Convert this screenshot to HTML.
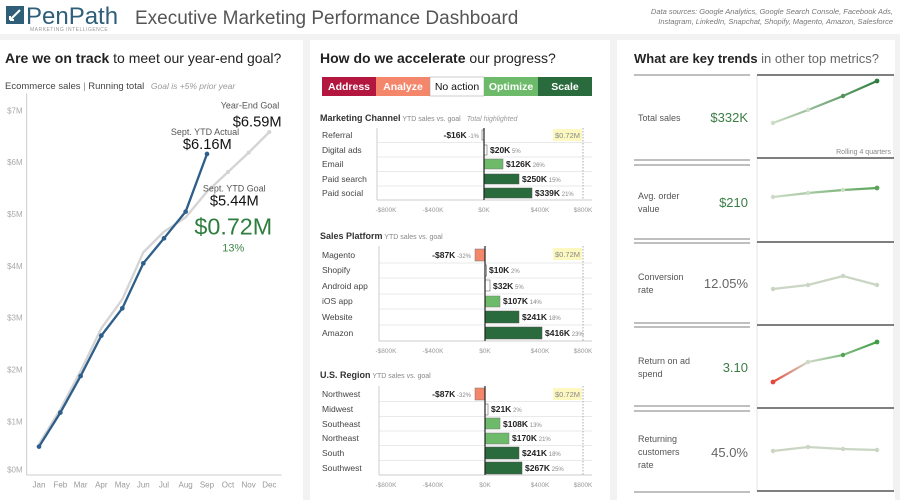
<!DOCTYPE html>
<html><head><meta charset="utf-8"><style>
html,body{margin:0;padding:0;width:900px;height:500px;overflow:hidden;background:#fff}
svg{display:block;font-family:"Liberation Sans",sans-serif}
</style></head><body>
<svg width="900" height="500" viewBox="0 0 900 500" xmlns="http://www.w3.org/2000/svg">
<defs>
<linearGradient id="g1" x1="0" x2="1"><stop offset="0" stop-color="#cddcc6"/><stop offset="1" stop-color="#2f7f3f"/></linearGradient>
<linearGradient id="g2" x1="0" x2="1"><stop offset="0" stop-color="#cddcc6"/><stop offset="1" stop-color="#5aa55a"/></linearGradient>
<linearGradient id="g4" x1="0" x2="1"><stop offset="0" stop-color="#e8453c"/><stop offset="0.33" stop-color="#cfd9c8"/><stop offset="1" stop-color="#3e9e45"/></linearGradient>
</defs>
<rect x="0" y="34" width="900" height="466" fill="#f2f2f2"/>
<rect x="0" y="40" width="303" height="460" fill="#fff"/>
<rect x="310" y="40" width="300" height="460" fill="#fff"/>
<rect x="617" y="40" width="278" height="460" fill="#fff"/>

<rect x="6" y="6" width="18" height="18" fill="#2f5f78"/>
<path d="M10 20 L20 10 M10 20 L14 20 M10 20 L10 16" stroke="#fff" stroke-width="2" fill="none"/>
<text x="26" y="24" font-size="24" fill="#2f5f78">PenPath</text>
<text x="30" y="31" font-size="5" fill="#999" letter-spacing="0.5">MARKETING INTELLIGENCE</text>
<text x="135" y="24" font-size="19" fill="#555">Executive Marketing Performance Dashboard</text>
<text x="893" y="14" font-size="7.5" fill="#777" font-style="italic" text-anchor="end">Data sources: Google Analytics, Google Search Console, Facebook Ads,</text>
<text x="893" y="24" font-size="7.5" fill="#777" font-style="italic" text-anchor="end">Instagram, LinkedIn, Snapchat, Shopify, Magento, Amazon, Salesforce</text>

<text x="5" y="63" font-size="14" fill="#222"><tspan font-weight="bold">Are we on track</tspan> to meet our year-end goal?</text>
<text x="5" y="89" font-size="9.5" fill="#444">Ecommerce sales <tspan fill="#888">|</tspan> Running total <tspan dx="4" fill="#999" font-style="italic" font-size="8.5">Goal is +5% prior year</tspan></text>
<g transform="translate(0,90) scale(0.3333)">
 <line x1="80" y1="10" x2="80" y2="1155" stroke="#ccc" stroke-width="3"/>
 <line x1="80" y1="1155" x2="845" y2="1155" stroke="#ccc" stroke-width="3"/>
 <g font-size="24" fill="#aaa" text-anchor="end">
  <text x="68" y="70">$7M</text><text x="68" y="225">$6M</text><text x="68" y="381">$5M</text><text x="68" y="537">$4M</text><text x="68" y="692">$3M</text><text x="68" y="848">$2M</text><text x="68" y="1003">$1M</text><text x="68" y="1148">$0M</text>
 </g>
 <g font-size="24" fill="#999" text-anchor="middle">
  <text x="117" y="1192">Jan</text><text x="181" y="1192">Feb</text><text x="242" y="1192">Mar</text><text x="304" y="1192">Apr</text><text x="367" y="1192">May</text><text x="430" y="1192">Jun</text><text x="492" y="1192">Jul</text><text x="557" y="1192">Aug</text><text x="621" y="1192">Sep</text><text x="684" y="1192">Oct</text><text x="746" y="1192">Nov</text><text x="808" y="1192">Dec</text>
 </g>
 <polyline fill="none" stroke="#d4d4d4" stroke-width="7" points="117,1062 181,958 242,843 304,715 367,628 430,487 492,425 557,382 621,305 684,246 746,188 808,126"/>
 <g fill="#d4d4d4"><circle cx="684" cy="246" r="6"/><circle cx="746" cy="188" r="6"/><circle cx="808" cy="126" r="6"/></g>
 <polyline fill="none" stroke="#2e5f8a" stroke-width="7" points="117,1070 181,968 242,858 304,737 367,655 430,520 492,445 557,365 621,192"/>
 <g fill="#2e5f8a"><circle cx="117" cy="1070" r="7"/><circle cx="181" cy="968" r="7"/><circle cx="242" cy="858" r="7"/><circle cx="304" cy="737" r="7"/><circle cx="367" cy="655" r="7"/><circle cx="430" cy="520" r="7"/><circle cx="492" cy="445" r="7"/><circle cx="557" cy="365" r="7"/><circle cx="621" cy="192" r="7"/></g>
 <text x="838" y="55" font-size="27" fill="#555" text-anchor="end">Year-End Goal</text>
 <text x="845" y="110" font-size="44" fill="#111" text-anchor="end">$6.59M</text>
 <text x="615" y="135" font-size="27" fill="#555" text-anchor="middle">Sept. YTD Actual</text>
 <text x="622" y="177" font-size="44" fill="#111" text-anchor="middle">$6.16M</text>
 <text x="703" y="305" font-size="27" fill="#555" text-anchor="middle">Sept. YTD Goal</text>
 <text x="703" y="347" font-size="44" fill="#111" text-anchor="middle">$5.44M</text>
 <text x="700" y="434" font-size="70" fill="#2e7d3e" text-anchor="middle">$0.72M</text>
 <text x="700" y="485" font-size="33" fill="#3e8a48" text-anchor="middle">13%</text>
</g>

<text x="320" y="63" font-size="14" fill="#222"><tspan font-weight="bold">How do we accelerate</tspan> our progress?</text>
<rect x="322" y="77" width="54" height="19" fill="#b3173f"/>
<rect x="376" y="77" width="54" height="19" fill="#f4866c"/>
<rect x="430" y="77" width="54" height="19" fill="#fff" stroke="#999" stroke-width="0.5"/>
<rect x="484" y="77" width="54" height="19" fill="#6dbb6a"/>
<rect x="538" y="77" width="54" height="19" fill="#2a6b3d"/>
<g font-size="10.5" text-anchor="middle" font-weight="bold">
<text x="349" y="90" fill="#fff">Address</text><text x="403" y="90" fill="#fff">Analyze</text><text x="457" y="90" fill="#111" font-weight="normal">No action</text><text x="511" y="90" fill="#fff">Optimize</text><text x="565" y="90" fill="#fff">Scale</text>
</g>

<g font-size="8.5" fill="#444">
<text x="320" y="121" font-size="9" fill="#333"><tspan font-weight="bold">Marketing Channel</tspan><tspan font-size="7" fill="#888"> YTD sales vs. goal</tspan><tspan dx="6" font-size="7" fill="#999" font-style="italic">Total highlighted</tspan></text>
<g stroke="#e2e2e2" stroke-width="0.8"><line x1="377" y1="142.5" x2="592" y2="142.5"/><line x1="377" y1="157" x2="592" y2="157"/><line x1="377" y1="171.5" x2="592" y2="171.5"/><line x1="377" y1="186" x2="592" y2="186"/></g>
<line x1="377" y1="128" x2="377" y2="200" stroke="#ccc"/><line x1="377" y1="200" x2="592" y2="200" stroke="#ccc"/>
<line x1="583" y1="128" x2="583" y2="200" stroke="#aaa" stroke-dasharray="1.5,1.5"/>
<rect x="553" y="129" width="29" height="12" fill="#fcf8bf"/><text x="567.5" y="138" font-size="7.5" fill="#888" text-anchor="middle">$0.72M</text>
<text x="322" y="138">Referral</text><text x="322" y="153">Digital ads</text><text x="322" y="167">Email</text><text x="322" y="182">Paid search</text><text x="322" y="196">Paid social</text>
<rect x="482" y="130" width="2" height="10" fill="#fff" stroke="#666" stroke-width="0.6"/>
<rect x="484" y="145" width="3" height="10" fill="#fff" stroke="#666" stroke-width="0.6"/>
<rect x="484" y="159" width="19" height="10" fill="#6dbb6a" stroke="#777" stroke-width="0.5"/>
<rect x="484" y="174" width="35" height="10" fill="#2a6b3d" stroke="#555" stroke-width="0.5"/>
<rect x="484" y="188" width="48" height="10" fill="#2a6b3d" stroke="#555" stroke-width="0.5"/>
<line x1="484" y1="128" x2="484" y2="200" stroke="#222" stroke-width="1.2"/>
<text x="479" y="138" text-anchor="end" fill="#222"><tspan font-weight="bold">-$16K</tspan><tspan font-size="6" fill="#888"> -1%</tspan></text>
<text x="490" y="153" fill="#222"><tspan font-weight="bold">$20K</tspan><tspan font-size="6" fill="#888"> 5%</tspan></text>
<text x="506" y="167" fill="#222"><tspan font-weight="bold">$126K</tspan><tspan font-size="6" fill="#888"> 26%</tspan></text>
<text x="522" y="182" fill="#222"><tspan font-weight="bold">$250K</tspan><tspan font-size="6" fill="#888"> 15%</tspan></text>
<text x="535" y="196" fill="#222"><tspan font-weight="bold">$339K</tspan><tspan font-size="6" fill="#888"> 21%</tspan></text>
<g font-size="6.5" fill="#999" text-anchor="middle"><text x="386" y="212">-$800K</text><text x="433" y="212">-$400K</text><text x="484" y="212">$0K</text><text x="540" y="212">$400K</text><text x="583" y="212">$800K</text></g>

<text x="320" y="239" font-size="9" fill="#333"><tspan font-weight="bold">Sales Platform</tspan><tspan font-size="7" fill="#888"> YTD sales vs. goal</tspan></text>
<g stroke="#e2e2e2" stroke-width="0.8"><line x1="379" y1="263" x2="592" y2="263"/><line x1="379" y1="278" x2="592" y2="278"/><line x1="379" y1="294" x2="592" y2="294"/><line x1="379" y1="309" x2="592" y2="309"/><line x1="379" y1="325" x2="592" y2="325"/></g>
<line x1="379" y1="246" x2="379" y2="341" stroke="#ccc"/><line x1="379" y1="341" x2="592" y2="341" stroke="#ccc"/>
<line x1="583" y1="246" x2="583" y2="341" stroke="#aaa" stroke-dasharray="1.5,1.5"/>
<rect x="553" y="248" width="29" height="12" fill="#fcf8bf"/><text x="567.5" y="257" font-size="7.5" fill="#888" text-anchor="middle">$0.72M</text>
<text x="322" y="258">Magento</text><text x="322" y="273">Shopify</text><text x="322" y="289">Android app</text><text x="322" y="304">iOS app</text><text x="322" y="320">Website</text><text x="322" y="336">Amazon</text>
<rect x="475" y="249" width="10" height="12" fill="#f4866c" stroke="#777" stroke-width="0.5"/>
<rect x="485" y="265" width="1.5" height="11" fill="#fff" stroke="#666" stroke-width="0.6"/>
<rect x="485" y="280" width="5" height="11" fill="#fff" stroke="#666" stroke-width="0.6"/>
<rect x="485" y="296" width="15" height="11" fill="#6dbb6a" stroke="#777" stroke-width="0.5"/>
<rect x="485" y="311" width="34" height="12" fill="#2a6b3d" stroke="#555" stroke-width="0.5"/>
<rect x="485" y="327" width="57" height="12" fill="#2a6b3d" stroke="#555" stroke-width="0.5"/>
<line x1="485" y1="246" x2="485" y2="341" stroke="#222" stroke-width="1.2"/>
<text x="471" y="258" text-anchor="end" fill="#222"><tspan font-weight="bold">-$87K</tspan><tspan font-size="6" fill="#888"> -32%</tspan></text>
<text x="489" y="273" fill="#222"><tspan font-weight="bold">$10K</tspan><tspan font-size="6" fill="#888"> 2%</tspan></text>
<text x="493" y="289" fill="#222"><tspan font-weight="bold">$32K</tspan><tspan font-size="6" fill="#888"> 5%</tspan></text>
<text x="503" y="304" fill="#222"><tspan font-weight="bold">$107K</tspan><tspan font-size="6" fill="#888"> 14%</tspan></text>
<text x="522" y="320" fill="#222"><tspan font-weight="bold">$241K</tspan><tspan font-size="6" fill="#888"> 18%</tspan></text>
<text x="545" y="336" fill="#222"><tspan font-weight="bold">$416K</tspan><tspan font-size="6" fill="#888"> 23%</tspan></text>
<g font-size="6.5" fill="#999" text-anchor="middle"><text x="386" y="353">-$800K</text><text x="433" y="353">-$400K</text><text x="485" y="353">$0K</text><text x="540" y="353">$400K</text><text x="583" y="353">$800K</text></g>

<text x="320" y="378" font-size="9" fill="#333"><tspan font-weight="bold">U.S. Region</tspan><tspan font-size="7" fill="#888"> YTD sales vs. goal</tspan></text>
<g stroke="#e2e2e2" stroke-width="0.8"><line x1="379" y1="401.5" x2="592" y2="401.5"/><line x1="379" y1="416.5" x2="592" y2="416.5"/><line x1="379" y1="431" x2="592" y2="431"/><line x1="379" y1="445.5" x2="592" y2="445.5"/><line x1="379" y1="460.5" x2="592" y2="460.5"/></g>
<line x1="379" y1="386" x2="379" y2="475" stroke="#ccc"/><line x1="379" y1="475" x2="592" y2="475" stroke="#ccc"/>
<line x1="583" y1="386" x2="583" y2="475" stroke="#aaa" stroke-dasharray="1.5,1.5"/>
<rect x="553" y="388" width="29" height="12" fill="#fcf8bf"/><text x="567.5" y="397" font-size="7.5" fill="#888" text-anchor="middle">$0.72M</text>
<text x="322" y="397">Northwest</text><text x="322" y="412">Midwest</text><text x="322" y="427">Southeast</text><text x="322" y="441">Northeast</text><text x="322" y="456">South</text><text x="322" y="471">Southwest</text>
<rect x="475" y="388" width="10" height="12" fill="#f4866c" stroke="#777" stroke-width="0.5"/>
<rect x="485" y="404" width="3" height="11" fill="#fff" stroke="#666" stroke-width="0.6"/>
<rect x="485" y="418" width="15" height="11" fill="#6dbb6a" stroke="#777" stroke-width="0.5"/>
<rect x="485" y="433" width="24" height="11" fill="#6dbb6a" stroke="#777" stroke-width="0.5"/>
<rect x="485" y="447" width="34" height="12" fill="#2a6b3d" stroke="#555" stroke-width="0.5"/>
<rect x="485" y="462" width="37" height="12" fill="#2a6b3d" stroke="#555" stroke-width="0.5"/>
<line x1="485" y1="386" x2="485" y2="475" stroke="#222" stroke-width="1.2"/>
<text x="471" y="397" text-anchor="end" fill="#222"><tspan font-weight="bold">-$87K</tspan><tspan font-size="6" fill="#888"> -32%</tspan></text>
<text x="491" y="412" fill="#222"><tspan font-weight="bold">$21K</tspan><tspan font-size="6" fill="#888"> 2%</tspan></text>
<text x="503" y="427" fill="#222"><tspan font-weight="bold">$108K</tspan><tspan font-size="6" fill="#888"> 13%</tspan></text>
<text x="512" y="441" fill="#222"><tspan font-weight="bold">$170K</tspan><tspan font-size="6" fill="#888"> 21%</tspan></text>
<text x="522" y="456" fill="#222"><tspan font-weight="bold">$241K</tspan><tspan font-size="6" fill="#888"> 18%</tspan></text>
<text x="525" y="471" fill="#222"><tspan font-weight="bold">$267K</tspan><tspan font-size="6" fill="#888"> 25%</tspan></text>
<g font-size="6.5" fill="#999" text-anchor="middle"><text x="386" y="487">-$800K</text><text x="433" y="487">-$400K</text><text x="485" y="487">$0K</text><text x="540" y="487">$400K</text><text x="583" y="487">$800K</text></g>
</g>

<text x="634" y="63" font-size="13" fill="#222"><tspan font-weight="bold">What are key trends</tspan><tspan fill="#666"> in other top metrics?</tspan></text>
<g stroke="#999" stroke-width="1.2">
<line x1="634" y1="75" x2="750" y2="75"/>
<line x1="634" y1="160" x2="750" y2="160"/><line x1="634" y1="165" x2="750" y2="165"/>
<line x1="634" y1="239" x2="750" y2="239"/><line x1="634" y1="243" x2="750" y2="243"/>
<line x1="634" y1="323" x2="750" y2="323"/><line x1="634" y1="327" x2="750" y2="327"/>
<line x1="634" y1="406" x2="750" y2="406"/><line x1="634" y1="411" x2="750" y2="411"/>
<line x1="634" y1="492" x2="750" y2="492"/>
</g>
<g stroke="#ddd" stroke-width="0.8"><line x1="757" y1="75" x2="757" y2="491"/><line x1="894" y1="75" x2="894" y2="491"/></g>
<g stroke="#555" stroke-width="1.5">
<line x1="757" y1="75" x2="894" y2="75"/><line x1="757" y1="158" x2="894" y2="158"/><line x1="757" y1="242" x2="894" y2="242"/><line x1="757" y1="325" x2="894" y2="325"/><line x1="757" y1="408" x2="894" y2="408"/><line x1="757" y1="491" x2="894" y2="491"/>
</g>
<g font-size="9" fill="#555">
<text x="638" y="121">Total sales</text>
<text x="638" y="199">Avg. order</text><text x="638" y="212">value</text>
<text x="638" y="280">Conversion</text><text x="638" y="293">rate</text>
<text x="638" y="364">Return on ad</text><text x="638" y="377">spend</text>
<text x="638" y="442">Returning</text><text x="638" y="455">customers</text><text x="638" y="468">rate</text>
</g>
<g font-size="13" text-anchor="end">
<text x="748" y="122" fill="#3a7d44">$332K</text>
<text x="748" y="207" fill="#3a7d44">$210</text>
<text x="748" y="288" fill="#666">12.05%</text>
<text x="748" y="372" fill="#3a7d44">3.10</text>
<text x="748" y="457" fill="#666">45.0%</text>
</g>
<polyline fill="none" stroke="url(#g1)" stroke-width="2.2" points="773,123 808,110 843,96 877,81"/>
<g fill="#cddcc6"><circle cx="773" cy="123" r="2.2"/><circle cx="808" cy="110" r="2.2"/></g><circle cx="843" cy="96" r="2.2" fill="#4f9456"/><circle cx="877" cy="81" r="2.4" fill="#2f7f3f"/>
<text x="891" y="154" font-size="7" fill="#888" text-anchor="end">Rolling 4 quarters</text>
<polyline fill="none" stroke="url(#g2)" stroke-width="2.2" points="773,197 808,193 843,190 877,188"/>
<g fill="#cddcc6"><circle cx="773" cy="197" r="2.2"/><circle cx="808" cy="193" r="2.2"/><circle cx="843" cy="190" r="2.2"/></g><circle cx="877" cy="188" r="2.4" fill="#5aa55a"/>
<polyline fill="none" stroke="#cad6c3" stroke-width="2.2" points="773,289 808,285 843,276 877,285"/>
<g fill="#cad6c3"><circle cx="773" cy="289" r="2.2"/><circle cx="808" cy="285" r="2.2"/><circle cx="843" cy="276" r="2.2"/><circle cx="877" cy="285" r="2.2"/></g>
<polyline fill="none" stroke="url(#g4)" stroke-width="2.2" points="773,382 808,362 843,355 877,342"/>
<circle cx="773" cy="382" r="2.4" fill="#e8453c"/><circle cx="808" cy="362" r="2.2" fill="#cfd9c8"/><circle cx="843" cy="355" r="2.2" fill="#4ea64f"/><circle cx="877" cy="342" r="2.4" fill="#3e9e45"/>
<polyline fill="none" stroke="#cad6c3" stroke-width="2.2" points="773,451 808,447 843,449 877,450"/>
<g fill="#cad6c3"><circle cx="773" cy="451" r="2.2"/><circle cx="808" cy="447" r="2.2"/><circle cx="843" cy="449" r="2.2"/><circle cx="877" cy="450" r="2.2"/></g>
</svg>
</body></html>
